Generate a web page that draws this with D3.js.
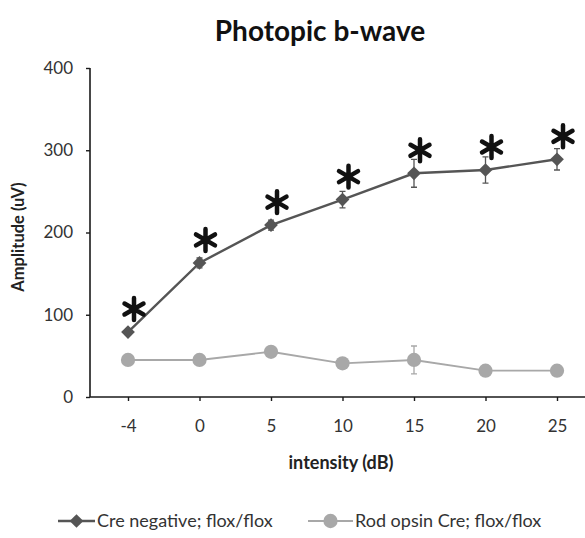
<!DOCTYPE html>
<html>
<head>
<meta charset="utf-8">
<script src="https://cdn.jsdelivr.net/npm/d3@7"></script>
<style>
  html, body { margin: 0; padding: 0; background: #fff; }
  svg { display: block; }
  text { font-family: Lato, "Open Sans", sans-serif; }
</style>
</head>
<body>
<svg id="chart" width="585" height="538"></svg>
<script>
// Photopic b-wave amplitude by flash intensity
const categories = ["-4", "0", "5", "10", "15", "20", "25"];
const creNegative = [79, 163, 209, 240, 272, 276, 289];
const creNegativeErr = [4, 6, 6, 10, 17, 16, 13];
const rodOpsinCre = [45, 45, 55, 41, 45, 32, 32];
const rodOpsinCreErr = [3, 3, 4, 4, 17, 3, 3];
const significant = [true, true, true, true, true, true, true];
const yTicks = [0, 100, 200, 300, 400];
const seriesNames = ["Cre negative; flox/flox", "Rod opsin Cre; flox/flox"];

const svg = d3.select("#chart");

const x = d3.scalePoint().domain(categories).range([128, 557]);
const y = d3.scaleLinear().domain([0, 400]).range([397, 68]);

const axisColor = "#1a1a1a";
const creColor = "#555";
const rodColor = "#a8a8a8";

// title
svg.append("text")
  .attr("x", 320).attr("y", 41)
  .attr("text-anchor", "middle")
  .attr("font-size", 28).attr("font-weight", "bold")
  .attr("fill", "#111")
  .text("Photopic b-wave");

// y axis
const yAxis = svg.append("g")
  .attr("transform", "translate(90,0)")
  .call(d3.axisLeft(y).tickValues(yTicks).tickSize(4).tickPadding(13));
yAxis.select(".domain").attr("stroke", axisColor).attr("stroke-width", 1.6)
  .attr("d", `M0,${y(400)}V${y(0)}`);
yAxis.selectAll(".tick line").attr("stroke", axisColor).attr("stroke-width", 1.4);
yAxis.selectAll(".tick text").attr("font-size", 17).attr("fill", "#333")
  .style("font-family", "Lato, sans-serif");

// x axis
const xAxis = svg.append("g")
  .attr("transform", `translate(0,${y(0)})`)
  .call(d3.axisBottom(x).tickSize(4).tickPadding(19));
xAxis.select(".domain").attr("stroke", axisColor).attr("stroke-width", 1.6)
  .attr("d", "M90,0H585");
xAxis.selectAll(".tick line").attr("stroke", axisColor).attr("stroke-width", 1.4);
xAxis.selectAll(".tick text").attr("font-size", 17).attr("fill", "#333")
  .style("font-family", "Lato, sans-serif");

// axis titles
svg.append("text")
  .attr("transform", "translate(24,237) rotate(-90)")
  .attr("text-anchor", "middle")
  .attr("font-size", 16.5).attr("font-weight", "bold").attr("fill", "#222")
  .text("Amplitude (uV)");

svg.append("text")
  .attr("x", 341).attr("y", 469)
  .attr("text-anchor", "middle")
  .attr("font-size", 18).attr("font-weight", "bold").attr("fill", "#222")
  .text("intensity (dB)");

function drawSeries(values, errs, color, lineWidth, marker) {
  const g = svg.append("g");
  const line = d3.line().x((d, i) => x(categories[i])).y(d => y(d));
  g.append("path").datum(values)
    .attr("d", line).attr("fill", "none")
    .attr("stroke", color).attr("stroke-width", lineWidth);
  // error bars
  values.forEach((v, i) => {
    const cx = x(categories[i]);
    const top = y(v + errs[i]), bot = y(v - errs[i]);
    g.append("path")
      .attr("d", `M${cx},${top}V${bot}M${cx - 3},${top}H${cx + 3}M${cx - 3},${bot}H${cx + 3}`)
      .attr("stroke", color).attr("stroke-width", 1.3).attr("fill", "none");
  });
  g.selectAll(".pt").data(values).enter().append("path")
    .attr("transform", (d, i) => `translate(${x(categories[i])},${y(d)})`)
    .attr("d", marker)
    .attr("fill", color);
}

const diamond = d3.symbol().type(d3.symbolDiamond2).size(120)();
const circle = d3.symbol().type(d3.symbolCircle).size(160)();

drawSeries(rodOpsinCre, rodOpsinCreErr, rodColor, 1.8, circle);
drawSeries(creNegative, creNegativeErr, creColor, 2.4, diamond);

// significance asterisks above the Cre negative points
const star = d3.symbol().type(d3.symbolAsterisk).size(340)();
svg.append("g").selectAll("path")
  .data(creNegative.map((v, i) => ({ v, i })).filter(d => significant[d.i]))
  .enter().append("path")
  .attr("transform", d => `translate(${x(categories[d.i]) + 6},${y(d.v) - 23})`)
  .attr("d", star)
  .attr("fill", "none").attr("stroke", "#111")
  .attr("stroke-width", 4.5).attr("stroke-linecap", "round");

// legend
const legend = svg.append("g").attr("transform", "translate(0,521)");
const legendItems = [
  { x0: 58, x1: 95, name: seriesNames[0], color: creColor, marker: diamond, w: 2.4 },
  { x0: 308, x1: 353, name: seriesNames[1], color: rodColor, marker: circle, w: 1.8 }
];
legendItems.forEach(it => {
  legend.append("line").attr("x1", it.x0).attr("x2", it.x1)
    .attr("stroke", it.color).attr("stroke-width", it.w);
  legend.append("path")
    .attr("transform", `translate(${(it.x0 + it.x1) / 2},0)`)
    .attr("d", it.marker).attr("fill", it.color);
  legend.append("text").attr("x", it.x1 + 2).attr("y", 6)
    .attr("font-size", 18).attr("fill", "#333")
    .text(it.name);
});
</script>
</body>
</html>
